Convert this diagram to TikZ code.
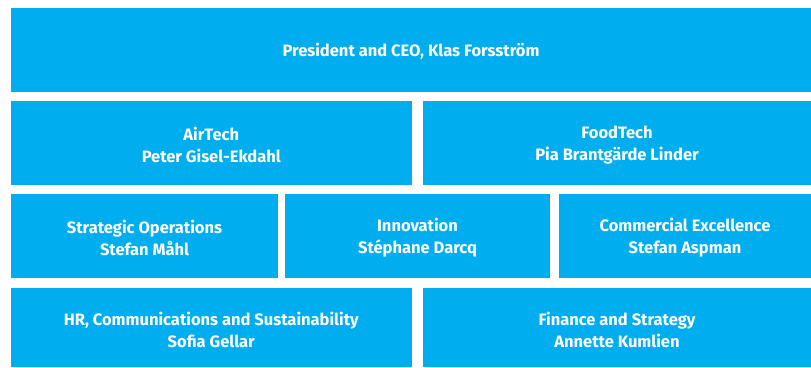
\documentclass[tikz,border=0pt]{standalone}
\usepackage{fontspec}
\setmainfont{Fira Sans}
\definecolor{boxblue}{HTML}{00AEEF}
\begin{document}
\begin{tikzpicture}[x=1pt,y=-1pt,
  unit/.style={fill=boxblue,draw=none,text=white,font=\fontsize{16.5}{22}\selectfont\bfseries,align=center,inner sep=0pt,yshift=-2pt}]
\useasboundingbox (0,0) rectangle (811,367);
\fill[white] (0,0) rectangle (811,367);
\newcommand\orgbox[6]{%
  \fill[boxblue] (#2,#3) rectangle (#4,#5);
  \node[unit] (#1) at ({(#2+#4)/2},{(#3+#5)/2}) {#6};}
\orgbox{ceo}{11}{8}{811}{91.5}{President and CEO, Klas Forsström}
\orgbox{air}{11}{101}{411.5}{185}{AirTech\\Peter Gisel-Ekdahl}
\orgbox{food}{423}{101}{811}{185}{FoodTech\\Pia Brantgärde Linder}
\orgbox{ops}{11}{194}{278}{277.5}{Strategic Operations\\Stefan Måhl}
\orgbox{inno}{285}{194}{550}{277.5}{Innovation\\Stéphane Darcq}
\orgbox{comm}{559}{194}{811}{277.5}{Commercial Excellence\\Stefan Aspman}
\orgbox{hr}{11}{288}{411.5}{367}{HR, Communications and Sustainability\\Sofia Gellar}
\orgbox{fin}{423}{288}{811}{367}{Finance and Strategy\\Annette Kumlien}
\end{tikzpicture}
\end{document}
